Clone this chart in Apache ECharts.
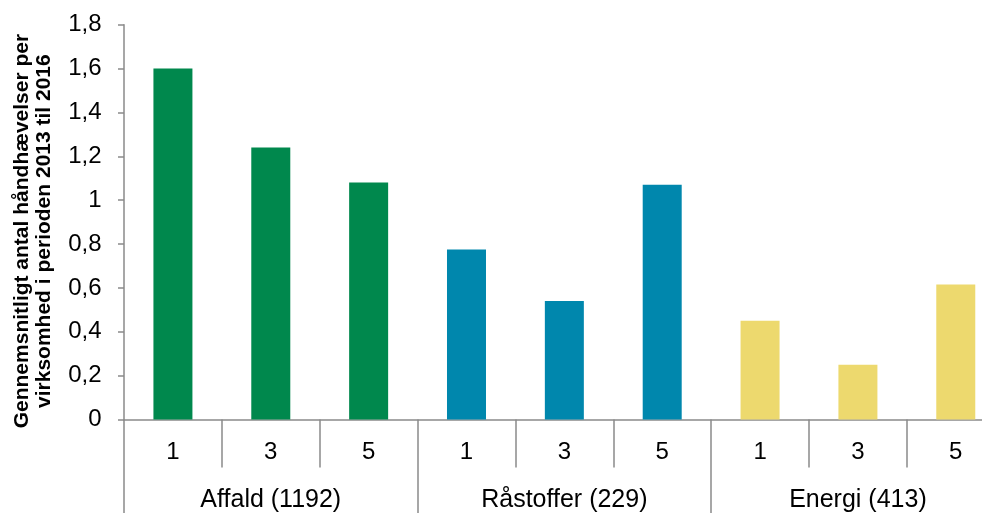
<!DOCTYPE html>
<html>
<head>
<meta charset="utf-8">
<script src="https://cdn.jsdelivr.net/npm/echarts@6/dist/echarts.min.js"></script>
<style>html,body{margin:0;padding:0;background:#fff}#c{width:982px;height:513px}</style>
</head>
<body>
<div id="c"></div>
<script>
const groups = ['Affald (1192)', 'Råstoffer (229)', 'Energi (413)'];
const subLabels = ['1', '3', '5'];
const affald = [1.60, 1.24, 1.08];
const raastoffer = [0.775, 0.54, 1.07];
const energi = [0.45, 0.25, 0.615];
const yTicks = [0, 0.2, 0.4, 0.6, 0.8, 1, 1.2, 1.4, 1.6, 1.8];
const groupColors = ['#00884D', '#0087AD', '#EDD96E'];

const seriesByGroup = [affald, raastoffer, energi];
const cats = [];
const barData = [];
seriesByGroup.forEach((vals, g) => {
  vals.forEach((v, i) => {
    cats.push(subLabels[i]);
    barData.push({ value: v, itemStyle: { color: groupColors[g] } });
  });
});

const axisGray = '#8a8a8a';
const ff = 'Liberation Sans, Arial, sans-serif';
const chart = echarts.init(document.getElementById('c'), null, { renderer: 'canvas' });
chart.setOption({
  animation: false,
  grid: { left: 124, top: 24.7, height: 394.8, width: 880.7, containLabel: false, outerBoundsMode: 'none' },
  xAxis: [
    {
      type: 'category', data: cats, position: 'bottom',
      axisLine: { show: true, lineStyle: { color: axisGray, width: 1.5 } },
      axisTick: { show: true, length: 48, lineStyle: { color: axisGray, width: 1.5 } },
      axisLabel: { color: '#000', fontSize: 24, fontFamily: ff, margin: 21 },
      splitLine: { show: false }
    },
    {
      type: 'category', data: groups, position: 'bottom',
      axisLine: { show: false },
      axisTick: { show: true, length: 94, interval: 0, lineStyle: { color: axisGray, width: 1.5 } },
      axisLabel: { color: '#000', fontSize: 25, fontFamily: ff, margin: 68, interval: 0 },
      splitLine: { show: false }
    }
  ],
  yAxis: {
    type: 'value', min: 0, max: yTicks[yTicks.length - 1], interval: 0.2,
    name: 'Gennemsnitligt antal håndhævelser per\nvirksomhed i perioden 2013 til 2016',
    nameLocation: 'middle', nameGap: 68.5,
    nameTextStyle: { color: '#000', fontSize: 21, fontWeight: 'bold', fontFamily: ff, lineHeight: 22, padding: [0, 18, 0, 0] },
    axisLine: { show: true, lineStyle: { color: axisGray, width: 1.5 } },
    axisTick: { show: true, length: 6, inside: false, lineStyle: { color: axisGray, width: 1.5 } },
    axisLabel: {
      color: '#000', fontSize: 24, fontFamily: ff, margin: 22.5,
      formatter: v => String(+v.toFixed(1)).replace('.', ',')
    },
    splitLine: { show: false }
  },
  series: [{
    type: 'bar', xAxisIndex: 0, data: barData, barWidth: 39
  }]
});
</script>
</body>
</html>
